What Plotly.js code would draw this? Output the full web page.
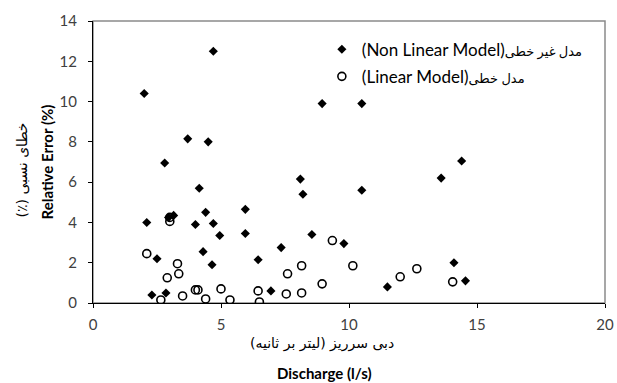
<!DOCTYPE html>
<html>
<head>
<meta charset="utf-8">
<script src="https://cdn.plot.ly/plotly-3.0.1.min.js"></script>
<style>html,body{margin:0;padding:0;background:#fff;}#chart{width:617px;height:383px;}</style>
</head>
<body>
<div id="chart"></div>
<script>
// Non linear model (diamonds)
const nonLinearX = [2.0, 4.7, 3.7, 4.5, 8.95, 10.5, 10.5, 13.6, 14.4, 9.8, 11.5, 14.1, 14.55, 2.8, 4.15, 4.4, 8.1, 8.2, 5.95, 2.1, 2.95, 3.15, 4.0, 4.7, 4.95, 5.95, 8.55, 7.35, 2.5, 4.3, 4.65, 6.45, 2.3, 2.85, 6.95];
const nonLinearY = [10.4, 12.5, 8.15, 8.0, 9.9, 9.9, 5.6, 6.2, 7.05, 2.95, 0.8, 2.0, 1.1, 6.95, 5.7, 4.5, 6.15, 5.4, 4.65, 4.0, 4.25, 4.35, 3.9, 3.95, 3.35, 3.45, 3.4, 2.75, 2.2, 2.55, 1.9, 2.15, 0.4, 0.5, 0.6];
// Linear model (open circles)
const linearX = [3.0, 3.0, 9.35, 10.15, 12.0, 12.65, 14.05, 2.1, 3.3, 3.35, 2.9, 7.6, 8.15, 8.95, 2.65, 3.5, 4.0, 4.1, 4.4, 5.0, 5.35, 6.45, 6.5, 7.55, 8.15];
const linearY = [4.25, 4.05, 3.1, 1.85, 1.3, 1.7, 1.05, 2.45, 1.95, 1.45, 1.25, 1.45, 1.85, 0.95, 0.15, 0.35, 0.65, 0.65, 0.2, 0.7, 0.15, 0.6, 0.05, 0.45, 0.5];

const seriesEn = ["(Non Linear Model)", "(Linear Model)"];
const seriesFa = ["مدل غیر خطی", "مدل خطی"];
const xTickVals = [0, 5, 10, 15, 20];
const yTickVals = [0, 2, 4, 6, 8, 10, 12, 14];
const xTitleFa = "دبی سرریز (لیتر بر ثانیه)";
const xTitleEn = "Discharge (l/s)";
const yTitleFa = "خطای نسبی (٪)";
const yTitleEn = "Relative Error (%)";

const RLM = "\u200F";
const rtl = s => RLM + s + RLM;

const FONT = "Lato, 'DejaVu Sans', sans-serif";
const FA = "'DejaVu Sans', sans-serif";

function legendName(i) {
  return seriesEn[i] + "<span style='font-size:13px'>" + seriesFa[i] + "</span>";
}

const traces = [
  {
    x: nonLinearX, y: nonLinearY, type: "scatter", mode: "markers",
    name: legendName(0), legendgroup: "a",
    marker: {symbol: "diamond", size: 7, color: "#000"}
  },
  {
    x: linearX, y: linearY, type: "scatter", mode: "markers",
    name: legendName(1), legendgroup: "b",
    marker: {symbol: "circle-open", size: 8, color: "#000", line: {width: 1.6, color: "#000"}}
  }
];

const layout = {
  width: 617, height: 383,
  margin: {l: 93, r: 12, t: 21, b: 80},
  paper_bgcolor: "#fff", plot_bgcolor: "#fff",
  font: {family: FONT, color: "#404040", size: 15},
  showlegend: true,
  legend: {
    x: 0.447, y: 0.962, xanchor: "left", yanchor: "top",
    bgcolor: "rgba(0,0,0,0)", traceorder: "grouped", tracegroupgap: 2,
    font: {family: FONT, size: 17, color: "#000"}, itemwidth: 30
  },
  xaxis: {
    range: [0, 20], tickvals: xTickVals, ticktext: xTickVals.map(String),
    showgrid: false, zeroline: false, showline: true, linecolor: "#000", linewidth: 1,
    ticks: "outside", ticklen: 4, tickcolor: "#000", ticklabelstandoff: 4,
    tickfont: {family: FONT, size: 15, color: "#404040"}
  },
  yaxis: {
    range: [0, 14], tickvals: yTickVals, ticktext: yTickVals.map(String),
    showgrid: false, zeroline: false, showline: true, linecolor: "#000", linewidth: 1,
    ticks: "outside", ticklen: 4, tickcolor: "#000", ticklabelstandoff: 8,
    tickfont: {family: FONT, size: 15, color: "#404040"},
    title: {text: "<b>" + yTitleEn + "</b>", font: {family: FONT, size: 15, color: "#000"}, standoff: 2}
  },
  shapes: [
    {type: "rect", xref: "paper", yref: "paper", x0: 0, x1: 1, y0: 0, y1: 1,
     line: {color: "#8a8a8a", width: 1.5}, layer: "below"}
  ],
  annotations: [
    {xref: "paper", yref: "paper", x: 0.448, y: 0, yshift: -40, xanchor: "center", yanchor: "middle",
     text: rtl(xTitleFa), showarrow: false, font: {family: FA, size: 14, color: "#000"}},
    {xref: "paper", yref: "paper", x: 0.453, y: 0, yshift: -70, xanchor: "center", yanchor: "middle",
     text: "<b>" + xTitleEn + "</b>", showarrow: false, font: {family: FONT, size: 15, color: "#000"}},
    {xref: "paper", yref: "paper", x: 0, y: 0.47, xshift: -71, xanchor: "center", yanchor: "middle",
     text: rtl(yTitleFa), textangle: -90, showarrow: false, font: {family: FA, size: 14, color: "#000"}}
  ]
};

Plotly.newPlot("chart", traces, layout, {displayModeBar: false, staticPlot: true});
</script>
</body>
</html>
